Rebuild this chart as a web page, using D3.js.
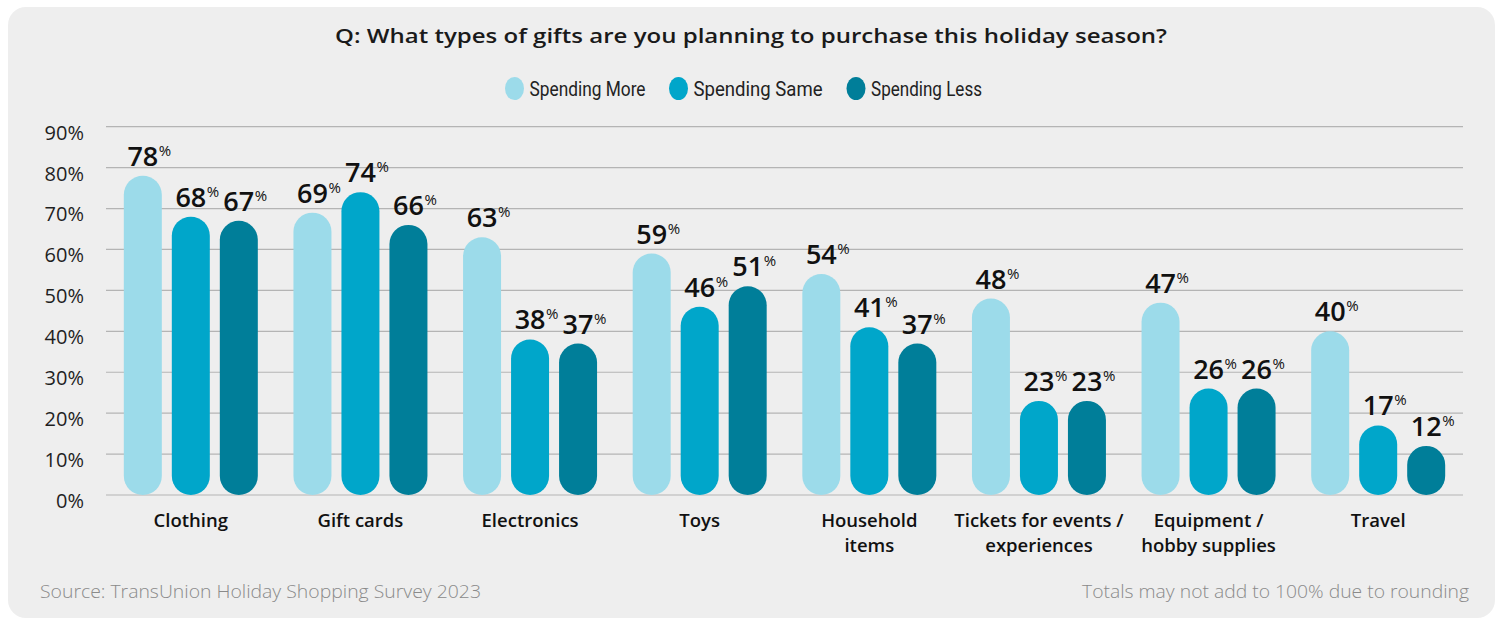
<!DOCTYPE html>
<html>
<head>
<meta charset="utf-8">
<script src="https://cdn.jsdelivr.net/npm/d3@7"></script>
<style>
  html, body { margin: 0; padding: 0; background: #ffffff; }
  svg { display: block; font-family: "Open Sans", Lato, sans-serif; }
</style>
</head>
<body>
<svg id="chart" width="1503" height="625"></svg>
<script>
// Survey categories and responses (percent)
const categories = [
  "Clothing", "Gift cards", "Electronics", "Toys", "Household items",
  "Tickets for events / experiences", "Equipment / hobby supplies", "Travel"
];
const categoryLines = [
  ["Clothing"], ["Gift cards"], ["Electronics"], ["Toys"],
  ["Household", "items"], ["Tickets for events /", "experiences"],
  ["Equipment /", "hobby supplies"], ["Travel"]
];
const seriesNames = ["Spending More", "Spending Same", "Spending Less"];
const spendingMore = [78, 69, 63, 59, 54, 48, 47, 40];
const spendingSame = [68, 74, 38, 46, 41, 23, 26, 17];
const spendingLess = [67, 66, 37, 51, 37, 23, 26, 12];
const yTicks = [0, 10, 20, 30, 40, 50, 60, 70, 80, 90];
const colors = ["#9cdbea", "#00a6ca", "#007e99"];

const title = "Q: What types of gifts are you planning to purchase this holiday season?";
const sourceNote = "Source: TransUnion Holiday Shopping Survey 2023";
const roundingNote = "Totals may not add to 100% due to rounding";

const series = [spendingMore, spendingSame, spendingLess];

const svg = d3.select("#chart");

// card background
svg.append("rect")
  .attr("x", 8).attr("y", 7)
  .attr("width", 1487).attr("height", 611)
  .attr("rx", 18).attr("fill", "#eeeeee");

// title
svg.append("text")
  .attr("x", 751).attr("y", 43)
  .attr("text-anchor", "middle")
  .attr("font-size", 20.5).attr("font-weight", 600)
  .attr("fill", "#1a1a1a")
  .attr("textLength", 832).attr("lengthAdjust", "spacingAndGlyphs")
  .text(title);

// legend
const legendX = [514.5, 678.5, 856];
const legendW = [116, 129, 111];
const legend = svg.append("g");
seriesNames.forEach((name, i) => {
  legend.append("ellipse")
    .attr("cx", legendX[i]).attr("cy", 88.5)
    .attr("rx", 9.5).attr("ry", 11.5)
    .attr("fill", colors[i]);
  legend.append("text")
    .attr("x", legendX[i] + 15).attr("y", 96)
    .attr("font-family", "Roboto, sans-serif")
    .attr("font-size", 20).attr("fill", "#222")
    .attr("textLength", legendW[i]).attr("lengthAdjust", "spacingAndGlyphs")
    .text(name);
});

// scales
const x0 = d3.scaleBand().domain(categories).range([106, 1463]).padding(0);
const x1 = d3.scaleBand().domain(d3.range(3)).range([-67, 67]).paddingInner(10 / 48);
const y = d3.scaleLinear().domain([0, 90]).range([495, 126.7]);

// gridlines
svg.append("g")
  .selectAll("line")
  .data(yTicks)
  .join("line")
  .attr("x1", 106).attr("x2", 1463)
  .attr("y1", d => y(d)).attr("y2", d => y(d))
  .attr("stroke", "#b4b4b4").attr("stroke-width", 1.2);

// y axis labels
const yAxis = svg.append("g")
  .attr("transform", "translate(84,0)")
  .call(d3.axisLeft(y).tickValues(yTicks).tickSize(0).tickPadding(0).tickFormat(d => d + "%"));
yAxis.select(".domain").remove();
yAxis.selectAll("text")
  .attr("font-size", 20).attr("fill", "#1f1f1f")
  .attr("font-family", "\"Open Sans\", sans-serif")
  .attr("dy", "0.62em");

// bars as pills
const barW = x1.bandwidth();
const groups = svg.append("g")
  .selectAll("g")
  .data(categories)
  .join("g")
  .attr("transform", d => `translate(${x0(d) + x0.bandwidth() / 2},0)`);

groups.each(function (cat, ci) {
  const g = d3.select(this);
  series.forEach((vals, si) => {
    const v = vals[ci];
    const bx = x1(si);
    g.append("rect")
      .attr("x", bx).attr("y", y(v))
      .attr("width", barW).attr("height", y(0) - y(v))
      .attr("rx", barW / 2).attr("ry", barW / 2)
      .attr("fill", colors[si]);
    const cx = bx + barW / 2;
    const num = g.append("text")
      .attr("x", cx).attr("y", y(v) - 10)
      .attr("text-anchor", "middle")
      .attr("font-size", 27).attr("font-weight", 600)
      .attr("fill", "#111")
      .text(v);
    const w = num.node().getComputedTextLength();
    g.append("text")
      .attr("x", cx + w / 2 + 0.5).attr("y", y(v) - 20)
      .attr("font-size", 15).attr("font-weight", 400)
      .attr("fill", "#111")
      .text("%");
  });
  // category label
  const t = g.append("text")
    .attr("text-anchor", "middle")
    .attr("font-size", 18.5).attr("font-weight", 600)
    .attr("fill", "#111");
  categoryLines[ci].forEach((line, li) => {
    t.append("tspan").attr("x", 0).attr("y", 527 + li * 25).text(line);
  });
});

// footnotes
svg.append("text")
  .attr("x", 40).attr("y", 598)
  .attr("font-size", 17.5).attr("font-weight", 300)
  .attr("fill", "#8a8a8a")
  .attr("textLength", 441).attr("lengthAdjust", "spacingAndGlyphs")
  .text(sourceNote);
svg.append("text")
  .attr("x", 1469).attr("y", 598)
  .attr("text-anchor", "end")
  .attr("font-size", 17.5).attr("font-weight", 300)
  .attr("fill", "#8a8a8a")
  .attr("textLength", 387).attr("lengthAdjust", "spacingAndGlyphs")
  .text(roundingNote);
</script>
</body>
</html>
